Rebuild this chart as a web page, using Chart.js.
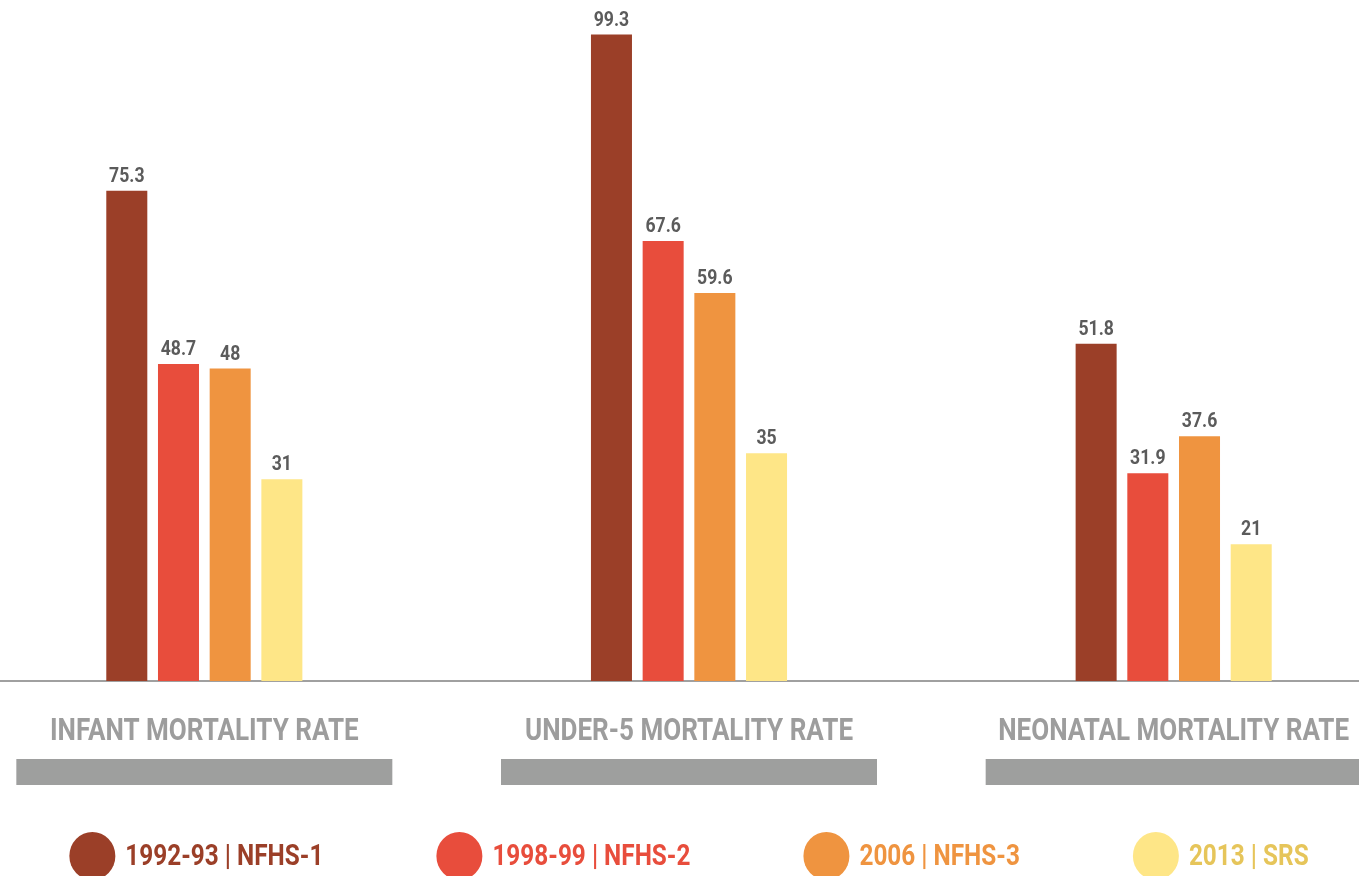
<!DOCTYPE html>
<html><head><meta charset="utf-8">
<script src="https://cdn.jsdelivr.net/npm/chart.js@4/dist/chart.umd.min.js"></script>
<style>
html,body{margin:0;padding:0;background:#fff;overflow:hidden;width:1359px;height:876px;}
#wrap{position:absolute;left:-38px;top:0;width:1454px;height:876px;}
</style></head><body>
<div id="wrap"><canvas id="c"></canvas></div>
<script>
const categories = ['INFANT MORTALITY RATE', 'UNDER-5 MORTALITY RATE', 'NEONATAL MORTALITY RATE'];
const seriesLabels = ['1992-93 | NFHS-1', '1998-99 | NFHS-2', '2006 | NFHS-3', '2013 | SRS'];
const nfhs1 = [75.3, 99.3, 51.8];
const nfhs2 = [48.7, 67.6, 31.9];
const nfhs3 = [48, 59.6, 37.6];
const srs = [31, 35, 21];
const seriesValues = [nfhs1, nfhs2, nfhs3, srs];
const barColors = ['#9b3f28', '#e84d3c', '#ef9440', '#fee687'];
const legendTextColors = ['#9b3f28', '#e84d3c', '#ef9440', '#e6c55a'];
const FONT = 'Roboto, "DejaVu Sans", sans-serif';
const SQUEEZE = 0.84; // condensed look

function drawSqueezed(ctx, text, x, y) {
  ctx.save();
  ctx.translate(x, y);
  ctx.scale(SQUEEZE, 1);
  ctx.fillText(text, 0, 0);
  ctx.restore();
}

const deco = {
  id: 'deco',
  afterDatasetsDraw(chart) {
    const ctx = chart.ctx;
    ctx.save();
    ctx.font = 'bold 21px ' + FONT;
    ctx.fillStyle = '#5b5b5b';
    ctx.textAlign = 'center';
    ctx.textBaseline = 'alphabetic';
    chart.data.datasets.forEach((ds, i) => {
      const meta = chart.getDatasetMeta(i);
      meta.data.forEach((bar, j) => {
        drawSqueezed(ctx, String(ds.data[j]), bar.x, bar.y - 9);
      });
    });
    ctx.restore();
  },
  afterDraw(chart) {
    const ctx = chart.ctx, xs = chart.scales.x, base = chart.chartArea.bottom;
    ctx.save();
    // category labels + grey underline bars
    ctx.font = 'bold 31px ' + FONT;
    ctx.textAlign = 'center';
    ctx.textBaseline = 'alphabetic';
    chart.data.labels.forEach((c, i) => {
      const cx = xs.getPixelForTick(i);
      ctx.fillStyle = '#9d9d9d';
      drawSqueezed(ctx, c, cx, base + 59);
      ctx.fillStyle = '#9e9f9e';
      ctx.fillRect(cx - 188, base + 78, 376, 26);
    });
    // legend
    ctx.font = 'bold 29px ' + FONT;
    const rx = 23, ry = 24, gap = 10, pad = 113;
    const widths = seriesLabels.map(t => ctx.measureText(t).width * SQUEEZE);
    const total = widths.reduce((a, w) => a + 2 * rx + gap + w, 0) + pad * (seriesLabels.length - 1);
    let x = chart.width / 2 - total / 2;
    const cy = base + 175;
    ctx.textAlign = 'left';
    seriesLabels.forEach((t, i) => {
      ctx.fillStyle = barColors[i];
      ctx.beginPath();
      ctx.ellipse(x + rx, cy, rx, ry, 0, 0, Math.PI * 2);
      ctx.fill();
      ctx.fillStyle = legendTextColors[i];
      drawSqueezed(ctx, t, x + 2 * rx + gap, base + 184);
      x += 2 * rx + gap + widths[i] + pad;
    });
    ctx.restore();
  }
};

new Chart(document.getElementById('c'), {
  type: 'bar',
  data: {
    labels: categories,
    datasets: seriesLabels.map((l, i) => ({
      label: l,
      data: seriesValues[i],
      backgroundColor: barColors[i],
      borderWidth: 0,
      categoryPercentage: 0.4266,
      barPercentage: 0.7935
    }))
  },
  options: {
    responsive: true,
    maintainAspectRatio: false,
    animation: false,
    layout: { padding: { top: 30, left: 0, right: 0, bottom: 0 } },
    plugins: { legend: { display: false }, tooltip: { enabled: false } },
    scales: {
      x: {
        grid: { display: false, drawTicks: false },
        border: { display: true, color: '#a0a0a0', width: 2 },
        ticks: { display: false },
        afterFit(scale) { scale.height = 195; }
      },
      y: { display: false, min: 0, max: 100 }
    }
  },
  plugins: [deco]
});
</script>
</body></html>
